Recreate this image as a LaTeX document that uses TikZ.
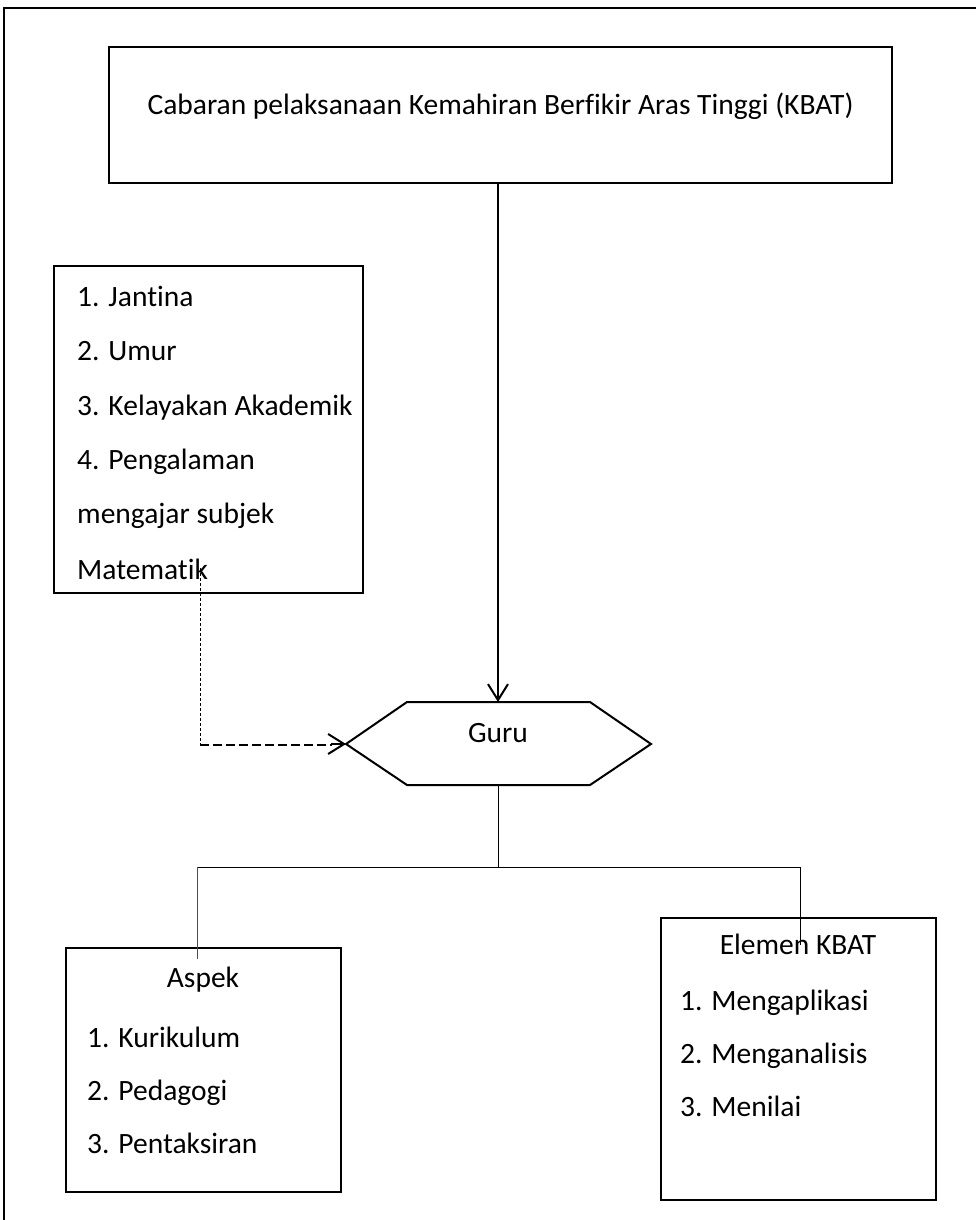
\documentclass[tikz,border=0pt]{standalone}
\usepackage{fontspec}
\setmainfont[Ligatures={NoCommon}]{Carlito}
\usetikzlibrary{arrows.meta,calc}
\begin{document}
\begin{tikzpicture}[x=1pt,y=-1pt,
  txt/.style={anchor=base west,inner sep=0pt,font=\fontsize{29.5}{34}\selectfont},
  ctxt/.style={anchor=base,inner sep=0pt,font=\fontsize{29.5}{34}\selectfont},
  thin/.style={line width=1pt},
  barb/.style={-{Straight Barb[length=16pt,width=20pt,line width=2pt]}}]
\useasboundingbox (0,0) rectangle (976,1220);
\clip (0,0) rectangle (976,1220);
% outer frame (only top and left visible)
\coordinate (fBL) at (4,1240);
\coordinate (fTL) at (4,8);
\coordinate (fTR) at (1000,8);
\draw[line width=2pt] (fBL) -- (fTL) -- (fTR);
% top box
\node[draw,line width=2pt,minimum width=783pt,minimum height=136pt,inner sep=0pt] (top) at (500.5,115) {};
\node[ctxt] (toptxt) at (500.5,114) {Cabaran pelaksanaan Kemahiran Berfikir Aras Tinggi (KBAT)};
% left factor box
\node[draw,line width=2pt,minimum width=309pt,minimum height=327pt,inner sep=0pt] (fac) at (208.5,429.5) {};
\node[txt] (f1) at (77,306) {1. Jantina};
\node[txt] (f2) at (77,360) {2. Umur};
\node[txt] (f3) at (77,415) {3. Kelayakan Akademik};
\node[txt] (f4) at (77,469) {4. Pengalaman};
\node[txt] (f5) at (77,523) {mengajar subjek};
\node[txt] (f6) at (77,579) {Matematik};
% hexagon
\coordinate (hL) at (346,744);
\coordinate (hTL) at (407,702);
\coordinate (hT) at (498,702);
\coordinate (hTR) at (590,702);
\coordinate (hR) at (651,744);
\coordinate (hBR) at (590,785);
\coordinate (hB) at (498,785);
\coordinate (hBL) at (407,785);
\draw[line width=2pt,line join=miter] (hL) -- (hTL) -- (hTR) -- (hR) -- (hBR) -- (hBL) -- cycle;
\node[ctxt] (guru) at (498,742) {Guru};
% arrow from top box to hexagon
\draw[line width=2pt,barb] (top.south -| hT) -- (hT);
% dotted / dashed connector from factor box
\coordinate (d0) at (200,568);
\coordinate (d1) at (200,745);
\draw[thin,dash pattern=on 3pt off 2pt] (d0) -- (d1);
\draw[line width=2.5pt,dash pattern=on 9pt off 4pt] (d1) -- ($(hL)+(-14,1)$);
\draw[line width=2pt,barb] ($(hL)+(-15,0)$) -- (hL);
% bottom boxes
\node[draw,line width=2pt,minimum width=275pt,minimum height=244pt,inner sep=0pt] (asp) at (203.5,1070) {};
\node[ctxt] (a0) at (203,987) {Aspek};
\node[txt] (a1) at (87,1047) {1. Kurikulum};
\node[txt] (a2) at (87,1100) {2. Pedagogi};
\node[txt] (a3) at (87,1153) {3. Pentaksiran};
\node[draw,line width=2pt,minimum width=275pt,minimum height=282pt,inner sep=0pt] (elm) at (798.5,1059) {};
\node[ctxt] (e0) at (798,954) {Elemen KBAT};
\node[txt] (e1) at (680,1010) {1. Mengaplikasi};
\node[txt] (e2) at (680,1063) {2. Menganalisis};
\node[txt] (e3) at (680,1116) {3. Menilai};
% tree
\coordinate (tj) at (498,867);
\coordinate (tl) at (197,867);
\coordinate (tr) at (800,867);
\draw[thin] (hB) -- (tj);
\draw[thin] (tl) -- (tr);
\draw[thin,black!70] (tl) -- (197,959);
\draw[thin] (tr) -- (800,945);
\end{tikzpicture}
\end{document}
